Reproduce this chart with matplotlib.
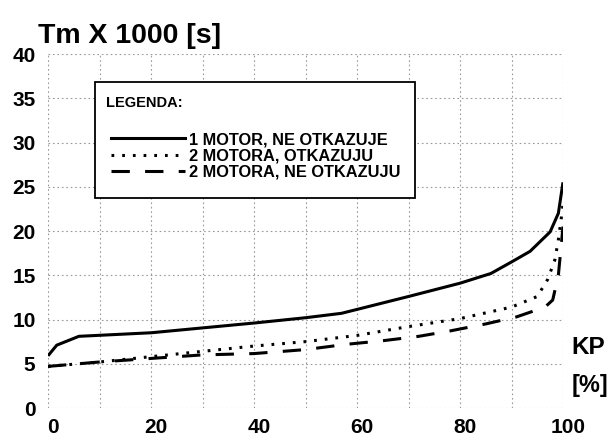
import matplotlib
matplotlib.use("Agg")
import matplotlib.pyplot as plt
import matplotlib.transforms as mtransforms
from matplotlib.lines import Line2D
from matplotlib.patches import Rectangle

# Operating time vs. probability level for three engine configurations
kp_one = [0, 1.7, 6, 20, 40, 50, 57, 70, 80, 86, 90, 93.6, 97.5, 99.1, 100]
tm_one = [5.9, 7.1, 8.1, 8.5, 9.6, 10.2, 10.7, 12.6, 14.1, 15.2, 16.5, 17.7, 19.9, 22.0, 25.5]

kp_two_fail = [0, 10, 20, 30, 40, 50, 60, 70, 80, 90, 95, 97, 98.4, 99.1, 99.7, 100]
tm_two_fail = [4.7, 5.2, 5.8, 6.4, 7.0, 7.5, 8.2, 9.2, 10.1, 11.4, 12.6, 14.5, 16.7, 19.0, 21.6, 23.0]

kp_two_ok = [0, 10, 20, 30, 40, 50, 58, 65, 72, 78, 85, 91, 96.5, 98, 99.1, 100]
tm_two_ok = [4.7, 5.2, 5.6, 6.0, 6.15, 6.6, 7.2, 7.6, 8.1, 8.7, 9.5, 10.3, 11.4, 12.2, 15.0, 20.5]

labels = ["1 MOTOR, NE OTKAZUJE", "2 MOTORA, OTKAZUJU", "2 MOTORA, NE OTKAZUJU"]
x_ticks = [0, 20, 40, 60, 80, 100]
y_ticks = [0, 5, 10, 15, 20, 25, 30, 35, 40]

plt.rcParams["font.family"] = ["Liberation Sans", "DejaVu Sans"]

DOTS = (0, (0.9, 2.6))
DASHES = (0, (6, 5))

fig = plt.figure(figsize=(6.12, 4.44), dpi=100)
ax = fig.add_axes([48 / 612, 36 / 444, 515 / 612, 354 / 444])

ax.plot(kp_one, tm_one, color="black", lw=2.2, solid_capstyle="butt")
ax.plot(kp_two_fail, tm_two_fail, color="black", lw=2.2, linestyle=DOTS)
ax.plot(kp_two_ok, tm_two_ok, color="black", lw=2.2, linestyle=DASHES)

ax.set_xlim(0, 100)
ax.set_ylim(0, 40)
ax.set_xticks(range(0, 101, 10))
ax.set_xticklabels([str(v) if v in x_ticks else "" for v in range(0, 101, 10)])
ax.set_yticks(y_ticks)
ax.set_yticklabels([str(v) for v in y_ticks])
for s in ax.spines.values():
    s.set_visible(False)
ax.grid(True, color="#9a9a9a", linestyle=(0, (1.5, 2.5)), lw=0.8)
ax.tick_params(length=0, labelsize=15)
ax.tick_params(axis="y", pad=9)
ax.tick_params(axis="x", pad=7)
shift = mtransforms.ScaledTranslation(5 / 100, 0, fig.dpi_scale_trans)
for t in ax.get_xticklabels():
    t.set_transform(t.get_transform() + shift)
for t in ax.get_xticklabels() + ax.get_yticklabels():
    t.set_fontweight("bold")

fig.text(38 / 612, 1 - 43 / 444, "Tm X 1000 [s]", fontsize=20.5,
         fontweight="bold", ha="left", va="baseline")
fig.text(571 / 612, 1 - 354 / 444, "KP", fontsize=17.5, fontweight="bold",
         ha="left", va="baseline")
fig.text(572 / 612, 1 - 392 / 444, "[%]", fontsize=17, fontweight="bold",
         ha="left", va="baseline")

# Legend panel
ax.add_patch(Rectangle((0.0913, 0.593), 0.6213, 0.328, transform=ax.transAxes,
                       facecolor="white", edgecolor="black", lw=1.3,
                       zorder=5, clip_on=False))
fig.text(106 / 612, 1 - 107 / 444, "LEGENDA:", fontsize=10.5,
         fontweight="bold", ha="left", va="baseline", zorder=6)
handles = [
    Line2D([], [], color="black", lw=2.2),
    Line2D([], [], color="black", lw=2.2, linestyle=DOTS),
    Line2D([], [], color="black", lw=2.2, linestyle=DASHES),
]
leg = ax.legend(handles, labels, loc="upper left",
                bbox_to_anchor=(103 / 612, 1 - 124 / 444),
                bbox_transform=fig.transFigure, frameon=False,
                handlelength=4.5, handletextpad=0.25, labelspacing=0.08,
                borderpad=0.0, prop={"weight": "bold", "size": 11.8})
leg.set_zorder(6)

fig.savefig("out.png", dpi=100)
